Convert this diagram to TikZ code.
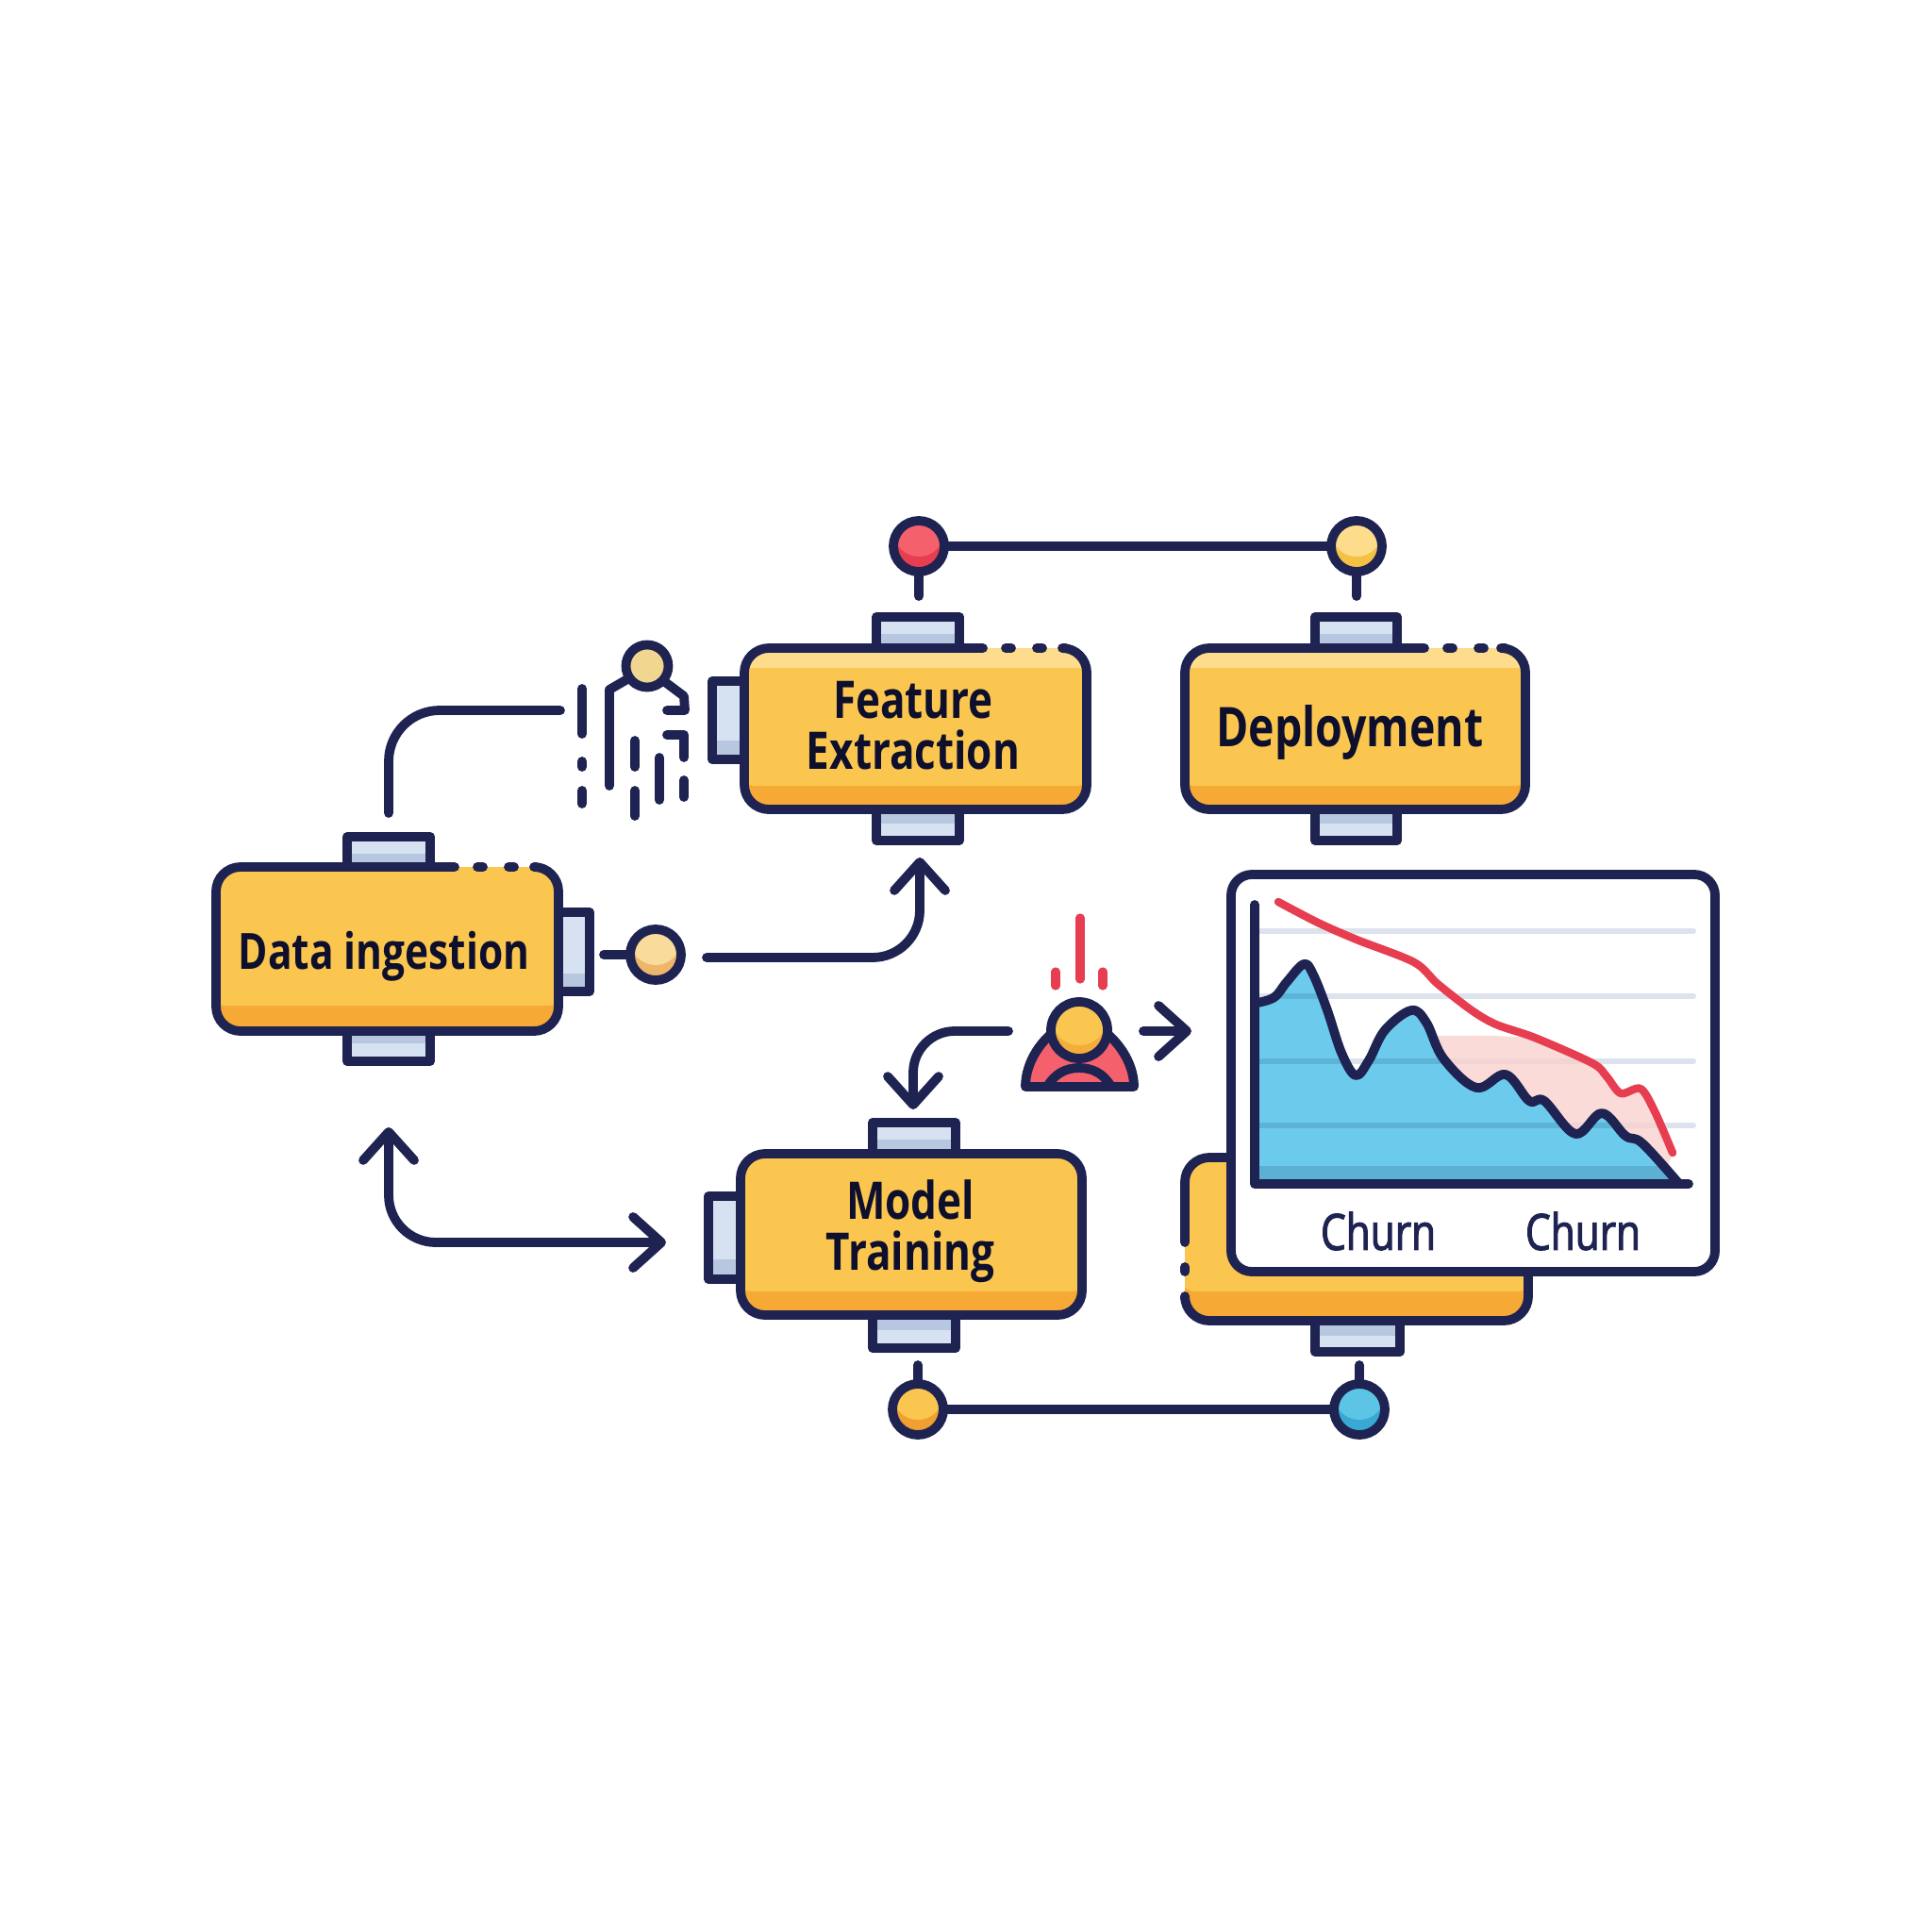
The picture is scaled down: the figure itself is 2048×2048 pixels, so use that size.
\documentclass[tikz,border=0pt]{standalone}
\usepackage{fontspec}
\usetikzlibrary{arrows.meta}
\newfontfamily\labfont[FakeStretch=.80]{Open Sans}
\newfontfamily\chfont[FakeStretch=.80,FakeBold=2]{Open Sans}
\definecolor{navy}{HTML}{1E2352}
\definecolor{inkc}{HTML}{0D0F2C}
\definecolor{yel}{HTML}{FBC64F}
\definecolor{yellt}{HTML}{FDDD8C}
\definecolor{orng}{HTML}{F6A935}
\definecolor{tablt}{HTML}{D6E2F1}
\definecolor{tabdk}{HTML}{B7C7DF}
\definecolor{redc}{HTML}{E63E50}
\definecolor{redlt}{HTML}{F4606C}
\definecolor{gridc}{HTML}{DDE3EC}
\definecolor{bluec}{HTML}{6CCBEC}
\definecolor{bluedk}{HTML}{5BB0D4}
\definecolor{pinkc}{HTML}{F9CFCB}
\definecolor{pinydk}{HTML}{F5C145}
\definecolor{pinodk}{HTML}{F0A030}
\definecolor{pinblt}{HTML}{5CC4E4}
\definecolor{pinbdk}{HTML}{38A9D3}
\definecolor{pindlt}{HTML}{F9DB9B}
\definecolor{pinddk}{HTML}{EDB66B}
\definecolor{headlt}{HTML}{F0D68E}
\definecolor{headdk}{HTML}{F2AD3A}
\tikzset{
  stroke/.style={draw=navy,line width=4.9pt,line cap=round,line join=round},
  rstroke/.style={draw=redc,line width=4.6pt,line cap=round},
  barb/.tip={Straight Barb[length=15pt,width=27pt,line width=4.9pt,round]},
  lab/.style={font=\labfont\bfseries\fontsize{27.5}{27}\selectfont,text=inkc,align=center,inner sep=0pt},
  labw/.style={font=\labfont\bfseries\fontsize{26.5}{27}\selectfont,text=inkc,align=center,inner sep=0pt},
  labd/.style={font=\labfont\bfseries\fontsize{29}{27}\selectfont,text=inkc,align=center,inner sep=0pt},
  chlab/.style={font=\chfont\fontsize{26.5}{27}\selectfont,text=navy,inner sep=0pt},
  pinnode/.style={circle,draw=navy,line width=4.9pt,minimum size=27pt,inner sep=0pt,outer sep=0pt}
}
% tab: x1 y1 x2 y2, band x1 y1 x2 y2
\newcommand{\tabshape}[8]{%
  \fill[tablt] (#1,#2) rectangle (#3,#4);
  \fill[tabdk] (#5,#6) rectangle (#7,#8);
  \draw[stroke] (#1,#2) rectangle (#3,#4);
}
% box fill: x1 y1 x2 y2 bandY innerTop topcolour
\newcommand{\boxfill}[7]{%
  \fill[orng,rounded corners=13pt] (#1,#2) rectangle (#3,#4);
  \begin{scope}
    \clip[rounded corners=13pt] (#1,#2) rectangle (#3,#4);
    \fill[#7] (#1-5,#2-5) rectangle (#3+5,#5-20);
    \fill[yel,rounded corners=8pt] (#1-5,#6) rectangle (#3+5,#5);
  \end{scope}
}
% outline with dotted stretch on top: x1 y1 x2 y2 gapstart (right end of solid) gapend
\newcommand{\boxline}[6]{%
  \draw[stroke,rounded corners=13pt] (#6,#2) -- (#3,#2) -- (#3,#4) -- (#1,#4) -- (#1,#2) -- (#5,#2);
  \draw[stroke] (#5+24,#2) -- (#5+30,#2);
  \draw[stroke] (#5+57,#2) -- (#5+63,#2);
}
\newcommand{\pin}[5]{%
  \node[pinnode,fill=#5,path picture={\fill[#4] ([yshift=8pt]path picture bounding box.center) circle (13.5pt);}] (#1) at (#2,#3) {};
}
\begin{document}
\begin{tikzpicture}[x=0.5pt,y=-0.5pt]
\useasboundingbox (0,0) rectangle (2048,2048);
\fill[white] (0,0) rectangle (2048,2048);

% ---------- tabs
\tabshape{368}{887}{456}{919}{368}{905}{456}{919}
\tabshape{368}{1093}{456}{1125}{368}{1093}{456}{1106}
\tabshape{592}{967}{625}{1051}{592}{1032}{625}{1051}
\tabshape{929}{654}{1017}{687}{929}{672}{1017}{687}
\tabshape{929}{858}{1017}{891}{929}{858}{1017}{873}
\tabshape{755}{722}{789}{805}{755}{785}{789}{805}
\tabshape{1394}{654}{1481}{687}{1394}{672}{1481}{687}
\tabshape{1394}{858}{1481}{891}{1394}{858}{1481}{873}
\tabshape{925}{1190}{1013}{1223}{925}{1208}{1013}{1223}
\tabshape{925}{1394}{1013}{1429}{925}{1394}{1013}{1410}
\tabshape{751}{1268}{785}{1356}{751}{1335}{785}{1356}
\tabshape{1394}{1400}{1484}{1433}{1394}{1400}{1484}{1416}

% ---------- process boxes
\boxfill{229}{919}{592}{1093}{1066}{925}{yel}
\boxline{229}{919}{592}{1093}{482}{569}
\node[labw] (ingest) at (407,1014) {Data ingestion};

\boxfill{789}{687}{1152}{858}{833}{708}{yellt}
\boxline{789}{687}{1152}{858}{1042}{1130}
\node[lab] (feature) at (968,769) {Feature\\Extraction};

\boxfill{1256}{687}{1617}{858}{833}{708}{yellt}
\boxline{1256}{687}{1617}{858}{1510}{1596}
\node[labd] (deploy) at (1431,776) {Deployment};

\boxfill{785}{1223}{1147}{1394}{1369}{1229}{yel}
\draw[stroke,rounded corners=13pt] (785,1223) rectangle (1147,1394);
\node[lab] (train) at (965,1305) {Model\\Training};

% fifth box behind the chart
\boxfill{1256}{1227}{1620}{1400}{1369}{1233}{yel}
\draw[stroke,rounded corners=13pt] (1256,1317) -- (1256,1227) -- (1400,1227);
\draw[stroke] (1256,1343) -- (1256,1348);
\draw[stroke,rounded corners=13pt] (1256,1377) -- (1256,1400) -- (1620,1400) -- (1620,1300);

% ---------- chart
\fill[white,rounded corners=11pt] (1305,927) rectangle (1818,1348);
\draw[stroke,rounded corners=11pt] (1305,927) rectangle (1818,1348);
\foreach \gy in {986.5,1055.5,1124.5,1193}
  \draw[gridc,line width=3pt,line cap=round] (1336,\gy) -- (1795,\gy);
\fill[pinkc,opacity=.75] (1524,1098) -- (1581,1098) -- (1627,1100) -- (1688,1127) -- (1703,1141) -- (1718,1159) -- (1739,1154) -- (1754,1178) -- (1773,1222) -- (1765,1245) -- (1650,1240) -- (1530,1200) -- cycle;
\fill[bluec] (1331,1255) -- (1331,1063) -- plot[smooth,tension=.6] coordinates {(1333,1063) (1351,1057) (1364,1041) (1382,1022) (1392,1033) (1407,1071) (1422,1116) (1437,1140) (1451,1124) (1468,1092) (1496,1071) (1512,1084) (1530,1122) (1565,1153) (1596,1139) (1621,1167) (1637,1167) (1670,1202) (1698,1180) (1723,1204) (1741,1212) (1780,1255)} -- cycle;
\begin{scope}
  \clip (1331,1255) -- (1331,1063) -- plot[smooth,tension=.6] coordinates {(1333,1063) (1351,1057) (1364,1041) (1382,1022) (1392,1033) (1407,1071) (1422,1116) (1437,1140) (1451,1124) (1468,1092) (1496,1071) (1512,1084) (1530,1122) (1565,1153) (1596,1139) (1621,1167) (1637,1167) (1670,1202) (1698,1180) (1723,1204) (1741,1212) (1780,1255)} -- cycle;
  \fill[bluedk] (1320,1236) rectangle (1800,1260);
  \foreach \gy in {1055.5,1124.5,1193}
    \draw[bluedk!85!bluec,line width=3pt] (1320,\gy) -- (1800,\gy);
\end{scope}
\draw[stroke] plot[smooth,tension=.6] coordinates {(1333,1063) (1351,1057) (1364,1041) (1382,1022) (1392,1033) (1407,1071) (1422,1116) (1437,1140) (1451,1124) (1468,1092) (1496,1071) (1512,1084) (1530,1122) (1565,1153) (1596,1139) (1621,1167) (1637,1167) (1670,1202) (1698,1180) (1723,1204) (1741,1212) (1780,1255)};
\draw[redc,line width=4.2pt,line cap=round,line join=round] plot[smooth,tension=.5] coordinates {(1355,956) (1397,978) (1438,996) (1499,1020) (1524,1043) (1560,1071) (1586,1086) (1627,1100) (1688,1127) (1703,1141) (1718,1159) (1739,1154) (1754,1178) (1773,1222)};
\draw[stroke] (1330,959) -- (1330,1255) -- (1790,1255);
\node[chlab] (churna) at (1461,1305) {Churn};
\node[chlab] (churnb) at (1678,1305) {Churn};

% ---------- pins
\pin{redpin}{974}{579}{redlt}{redc}
\pin{yelpin}{1438}{579}{yellt}{pinydk}
\pin{orgpin}{973}{1494}{yel}{pinodk}
\pin{blupin}{1441}{1494}{pinblt}{pinbdk}
\pin{datapin}{695}{1012}{pindlt}{pinddk}
\coordinate (s1) at (974,632);
\coordinate (s2) at (1438,632);
\coordinate (s3) at (973,1447);
\coordinate (s4) at (1441,1447);
\coordinate (s5) at (640,1012);
\draw[stroke] (redpin) -- (yelpin);
\draw[stroke] (orgpin) -- (blupin);
\draw[stroke] (redpin) -- (s1);
\draw[stroke] (yelpin) -- (s2);
\draw[stroke] (orgpin) -- (s3);
\draw[stroke] (blupin) -- (s4);
\draw[stroke] (datapin) -- (s5);

% ---------- connectors
\coordinate (a1) at (412,862);
\coordinate (a2) at (412,753);
\coordinate (a3) at (594,753);
\draw[stroke,rounded corners=27pt] (a1) -- (a2) -- (a3);

\coordinate (b1) at (749,1015);
\coordinate (b2) at (975,1015);
\coordinate (b3) at (975,909);
\draw[stroke,rounded corners=25pt,-{barb}] (b1) -- (b2) -- (b3);

\coordinate (c1) at (1069,1093);
\coordinate (c2) at (968,1093);
\coordinate (c3) at (968,1176);
\draw[stroke,rounded corners=22pt,-{barb}] (c1) -- (c2) -- (c3);

\coordinate (d1) at (1212,1093);
\coordinate (d2) at (1263,1093);
\draw[stroke,-{barb}] (d1) -- (d2);

\coordinate (e1) at (412,1195);
\coordinate (e2) at (412,1317);
\coordinate (e3) at (706,1317);
\draw[stroke,rounded corners=25pt,{barb}-{barb}] (e1) -- (e2) -- (e3);

% ---------- dashed figure
\node[circle,draw=navy,line width=4.9pt,fill=headlt,minimum size=22.5pt,inner sep=0pt,outer sep=0pt] (figa) at (686,706) {};
\coordinate (fl1) at (646,731);
\coordinate (fl2) at (646,833);
\coordinate (fr1) at (665,720);
\coordinate (fr2) at (705,723);
\draw[stroke] (fr1) -- (fl1) -- (fl2);
\draw[stroke] (fr2) -- (725,738) -- (726,753) -- (707,753);
\draw[stroke] (707,779) -- (725,779) -- (725,803);
\foreach \dx/\da/\db in {617/730/778,617/807/813,617/838/852,673/785/813,673/838/865,699/803/848,725/827/845}
  \draw[stroke] (\dx,\da) -- (\dx,\db);

% ---------- alert figure
\path[fill=redlt,draw=navy,line width=4.9pt,line join=round] (1087,1152) .. controls (1087,1125) and (1105,1100) .. (1125,1088) -- (1163,1088) .. controls (1183,1100) and (1202,1125) .. (1202,1152) -- cycle;
\draw[stroke] (1110,1152) .. controls (1118,1138) and (1130,1132) .. (1144,1132) .. controls (1158,1132) and (1170,1138) .. (1178,1152);
\node[pinnode,minimum size=30pt,fill=headdk,path picture={\fill[yel] ([yshift=7pt]path picture bounding box.center) circle (15pt);}] (figb) at (1144,1092) {};
\draw[rstroke] (1145,973) -- (1145,1038);
\draw[rstroke] (1119,1030) -- (1119,1045);
\draw[rstroke] (1169,1030) -- (1169,1045);
\end{tikzpicture}
\end{document}
